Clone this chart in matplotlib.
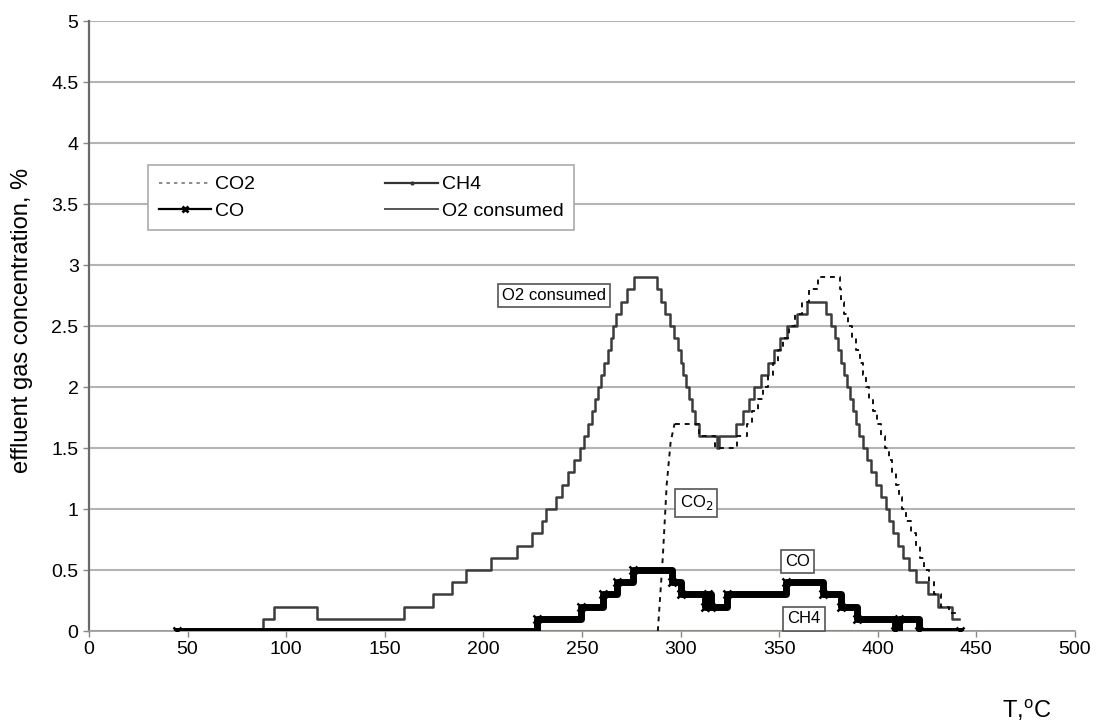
import numpy as np
import matplotlib
matplotlib.use("Agg")
import matplotlib.pyplot as plt
from matplotlib.lines import Line2D

plt.rcParams['font.family'] = ['Liberation Sans', 'DejaVu Sans']

# step data: each value holds from its temperature up to the next one
o2_t = [45, 88, 94, 115.5, 160, 174.5, 184, 191, 204, 217, 224.5, 229.5, 232, 237,
        240, 243, 246, 249, 251, 253, 255, 256.5, 258, 259.5, 261, 263, 264.5, 266,
        267.5, 270, 273, 276.5, 288, 290, 292, 294.5, 296.5, 298.5, 300, 301.5, 303,
        304.5, 306, 307.5, 309.5, 318.5, 319.5, 328, 331.5, 334.5, 337.5, 341, 344.5,
        347.5, 350.5, 354, 359, 364, 374, 376.5, 378.5, 380, 381.5, 383, 384.5, 386,
        387.5, 389, 390.5, 392.5, 394.5, 396.5, 399, 401.5, 404, 406, 408, 410.5, 413,
        416, 419.5, 425.5, 430.5, 437.5, 441.5]
o2_v = [0, 0.1, 0.2, 0.1, 0.2, 0.3, 0.4, 0.5, 0.6, 0.7, 0.8, 0.9, 1.0, 1.1,
        1.2, 1.3, 1.4, 1.5, 1.6, 1.7, 1.8, 1.9, 2.0, 2.1, 2.2, 2.3, 2.4, 2.5,
        2.6, 2.7, 2.8, 2.9, 2.8, 2.7, 2.6, 2.5, 2.4, 2.3, 2.2, 2.1, 2.0,
        1.9, 1.8, 1.7, 1.6, 1.5, 1.6, 1.7, 1.8, 1.9, 2.0, 2.1, 2.2,
        2.3, 2.4, 2.5, 2.6, 2.7, 2.6, 2.5, 2.4, 2.3, 2.2, 2.1, 2.0, 1.9,
        1.8, 1.7, 1.6, 1.5, 1.4, 1.3, 1.2, 1.1, 1.0, 0.9, 0.8, 0.7, 0.6,
        0.5, 0.4, 0.3, 0.2, 0.1, 0.1]

# CO2 ramps up from zero, then steps
co2_ramp_t = [288.5, 291, 293, 295, 297]
co2_ramp_v = [0, 0.6, 1.2, 1.55, 1.7]
co2_t = [297, 309.5, 317.5, 328.5, 333.5, 336.5, 339.5, 342, 344.5, 347, 349.5, 352,
         355, 358, 361.5, 365, 369.5, 381, 381.5, 383, 385, 387, 389, 391, 392.5,
         394, 395.5, 397.5, 399.5, 401.5, 403.5, 405.5, 407.5, 409.5, 411, 412.5,
         414.5, 417, 419.5, 421.5, 423.5, 426, 428.5, 432, 436, 440.5, 441]
co2_v = [1.7, 1.6, 1.5, 1.6, 1.7, 1.8, 1.9, 2.0, 2.1, 2.2, 2.3, 2.4,
         2.5, 2.6, 2.7, 2.8, 2.9, 2.8, 2.7, 2.6, 2.5, 2.4, 2.3, 2.2, 2.1,
         2.0, 1.9, 1.8, 1.7, 1.6, 1.5, 1.4, 1.3, 1.2, 1.1, 1.0,
         0.9, 0.8, 0.7, 0.6, 0.5, 0.4, 0.3, 0.2, 0.15, 0.15, 0.15]

co_t = [44.5, 227, 249.5, 260.5, 268, 276, 295.5, 300.5, 312.5, 314, 315.5, 323.5,
        353.5, 372.5, 381.5, 389.5, 409, 411, 421, 442]
co_v = [0, 0.1, 0.2, 0.3, 0.4, 0.5, 0.4, 0.3, 0.2, 0.3, 0.2, 0.3,
        0.4, 0.3, 0.2, 0.1, 0, 0.1, 0, 0]

ch4_t = [227, 441]
ch4_v = [0, 0]

fig = plt.figure(figsize=(10.99, 7.27), dpi=100)
ax = fig.add_axes([0.081, 0.132, 0.897, 0.839])

ax.plot(o2_t, o2_v, drawstyle='steps-post', color='#3c3c3c', lw=1.8, zorder=3)
ax.plot(co2_ramp_t, co2_ramp_v, color='#111111', lw=1.4, ls=(0, (2.5, 2.5)), zorder=3)
ax.plot(co2_t, co2_v, drawstyle='steps-post', color='#111111', lw=1.4,
        ls=(0, (2.5, 2.5)), zorder=3)
ax.plot(ch4_t, ch4_v, color='#4b4b14', lw=2.2, zorder=2)
ax.plot(co_t, co_v, drawstyle='steps-post', color='black', lw=5,
        marker='x', ms=6, mew=1.8, zorder=4)

ax.set_xlim(0, 500)
ax.set_ylim(0, 5)
ax.set_xticks(np.arange(0, 501, 50))
ax.set_yticks(np.arange(0, 5.01, 0.5))
ax.set_yticklabels(['0', '0.5', '1', '1.5', '2', '2.5', '3', '3.5', '4', '4.5', '5'])
ax.yaxis.grid(True, color='#b4b4b4', lw=1.5)
ax.set_axisbelow(True)
ax.tick_params(labelsize=14, color='#888888', length=4, width=1)
for s in ['top', 'right']:
    ax.spines[s].set_visible(False)
ax.spines['left'].set_color('#6a6a6a')
ax.spines['left'].set_linewidth(1.6)
ax.spines['bottom'].set_color('#999999')
ax.spines['bottom'].set_linewidth(1.2)

# legend keys drawn thin, as in the original
leg_handles = [
    Line2D([], [], color='#777777', lw=1.2, ls=(0, (2, 2.5))),
    Line2D([], [], color='black', lw=1.6, marker='x', ms=5, mew=2),
    Line2D([], [], color='#333333', lw=1.6, marker='.', ms=4),
    Line2D([], [], color='#555555', lw=1.4),
]
leg = ax.legend(leg_handles, ['CO2', 'CO', 'CH4', 'O2 consumed'],
                ncol=2, loc='upper left', bbox_to_anchor=(0.0598, 0.764),
                fontsize=14, frameon=True, fancybox=False, framealpha=1,
                edgecolor='#aaaaaa', handlelength=2.7, handletextpad=0.2,
                columnspacing=6.7, labelspacing=0.45, borderpad=0.55,
                borderaxespad=0)
leg.get_frame().set_linewidth(1.2)

box = dict(boxstyle='square,pad=0.25', fc='white', ec='#555555', lw=1.2)
ax.text(236, 2.75, 'O2 consumed', fontsize=12, ha='center', va='center', bbox=box, zorder=5)
ax.text(308, 1.05, 'CO$_2$', fontsize=12, ha='center', va='center', bbox=box, zorder=5)
ax.text(359.5, 0.57, 'CO', fontsize=12, ha='center', va='center', bbox=box, zorder=5)
ax.text(362.5, 0.1, 'CH4', fontsize=12, ha='center', va='center', bbox=box, zorder=5)

fig.text(22 / 1099, 1 - 320 / 727, 'effluent gas concentration, %', rotation=90,
         fontsize=17, ha='center', va='center')
fig.text(1027 / 1099, 1 - 710 / 727, 'T,$^{\\mathregular{o}}$C', fontsize=17,
         ha='center', va='center')

fig.savefig('out.png', dpi=100)
